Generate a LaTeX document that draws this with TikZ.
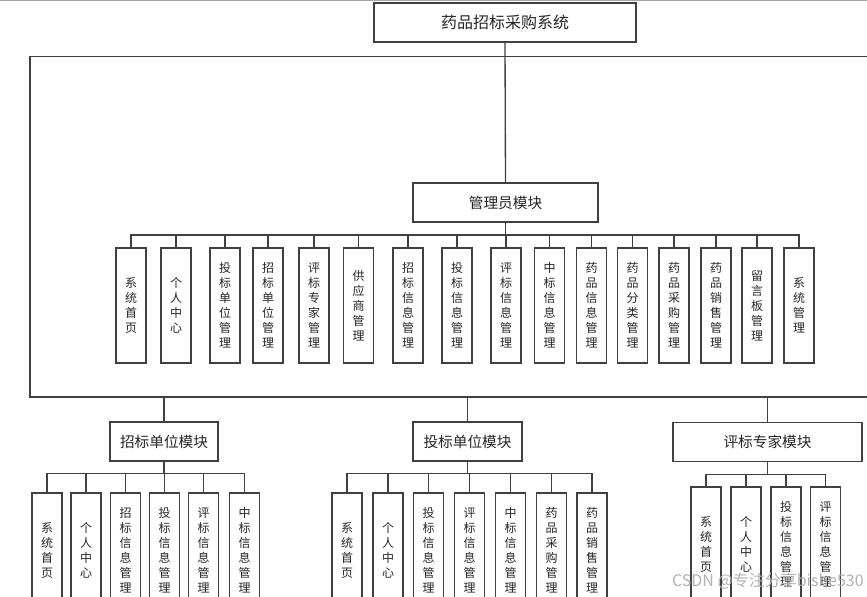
\documentclass[tikz,border=0pt]{standalone}
\usepackage{fontspec}
\newfontfamily\cjk{Noto Sans CJK SC}
\usetikzlibrary{calc}
\begin{document}
\begin{tikzpicture}[x=0.75pt,y=-0.75pt,
  line/.style={draw=black!75, line width=1pt},
  box/.style={draw=black!75, line width=1pt, fill=white, inner sep=0pt, text=black!85},
  titlebox/.style={box, minimum width=196.5pt, minimum height=29.25pt, font=\cjk\fontsize{12}{14}\selectfont},
  modbox/.style={box, minimum height=29.25pt, font=\cjk\fontsize{11}{13}\selectfont},
  leaf/.style={box, minimum width=22.5pt, minimum height=86.25pt, align=center, font=\cjk\fontsize{9}{11.25}\selectfont},
  wmtext/.style={text=black!30, font=\cjk\fontsize{12}{14}\selectfont, inner sep=0pt, anchor=east}
]
\clip (0,0) rectangle (867,596);
\fill[white] (0,0) rectangle (867,596);
\draw[draw=black!35, line width=1pt] (0,0.7) -- (867,0.7);

% frame
\coordinate (ftl) at (30,56.5);
\coordinate (fbl) at (30,397);
\coordinate (ftr) at (890,56.5);
\coordinate (fbr) at (890,397);
\draw[line] (ftr) -- (ftl) -- (fbl) -- (fbr);

% top and admin
\node[titlebox] (top) at (505,22.5) {药品招标采购系统};
\node[modbox, minimum width=138.75pt] (admin) at (505.5,202.5) {管理员模块};
\draw[line] (top.south) -- (admin.north);

\foreach \n/\x/\t in {1/131/{系\\统\\首\\页},2/176/{个\\人\\中\\心},3/225/{投\\标\\单\\位\\管\\理},
  4/268/{招\\标\\单\\位\\管\\理},5/314/{评\\标\\专\\家\\管\\理},6/358.5/{供\\应\\商\\管\\理},
  7/408/{招\\标\\信\\息\\管\\理},8/457/{投\\标\\信\\息\\管\\理},9/506/{评\\标\\信\\息\\管\\理},
  10/549.5/{中\\标\\信\\息\\管\\理},11/591.5/{药\\品\\信\\息\\管\\理},12/632.5/{药\\品\\分\\类\\管\\理},
  13/674/{药\\品\\采\\购\\管\\理},14/716/{药\\品\\销\\售\\管\\理},15/757/{留\\言\\板\\管\\理},
  16/799/{系\\统\\管\\理}}{
  \node[leaf] (a\n) at (\x,305.5) {\t};
  \draw[line] (admin.south) |- ($(a\n.north)+(0,-12.5)$) -- (a\n.north);
}

% modules
\node[modbox, minimum width=81pt] (m1) at (164,441.5) {招标单位模块};
\node[modbox, minimum width=81.75pt] (m2) at (467.5,441.5) {投标单位模块};
\node[modbox, minimum width=141.75pt] (m3) at (767.5,442) {评标专家模块};
\draw[line] (m1.north) -- (m1.north |- fbl);
\draw[line] (m2.north) -- (m2.north |- fbl);
\draw[line] (m3.north) -- (m3.north |- fbl);

\foreach \n/\x/\t in {1/47/{系\\统\\首\\页},2/86/{个\\人\\中\\心},3/125.5/{招\\标\\信\\息\\管\\理},
  4/164.5/{投\\标\\信\\息\\管\\理},5/203.5/{评\\标\\信\\息\\管\\理},6/244.5/{中\\标\\信\\息\\管\\理}}{
  \node[leaf] (b\n) at (\x,550.5) {\t};
  \draw[line] (m1.south) |- ($(b\n.north)+(0,-19)$) -- (b\n.north);
}

\foreach \n/\x/\t in {1/347/{系\\统\\首\\页},2/388/{个\\人\\中\\心},3/428.5/{投\\标\\信\\息\\管\\理},
  4/469.5/{评\\标\\信\\息\\管\\理},5/510.5/{中\\标\\信\\息\\管\\理},6/551.5/{药\\品\\采\\购\\管\\理},
  7/592/{药\\品\\销\\售\\管\\理}}{
  \node[leaf] (c\n) at (\x,550.5) {\t};
  \draw[line] (m2.south) |- ($(c\n.north)+(0,-19)$) -- (c\n.north);
}

\foreach \n/\x/\t in {1/706/{系\\统\\首\\页},2/746/{个\\人\\中\\心},3/786/{投\\标\\信\\息\\管\\理},
  4/825.5/{评\\标\\信\\息\\管\\理}}{
  \node[leaf] (d\n) at (\x,544.5) {\t};
  \draw[line] (m3.south) |- ($(d\n.north)+(0,-12)$) -- (d\n.north);
}

\node[wmtext] (wm) at (864,581) {CSDN @专注分享bishe530};
\end{tikzpicture}
\end{document}
